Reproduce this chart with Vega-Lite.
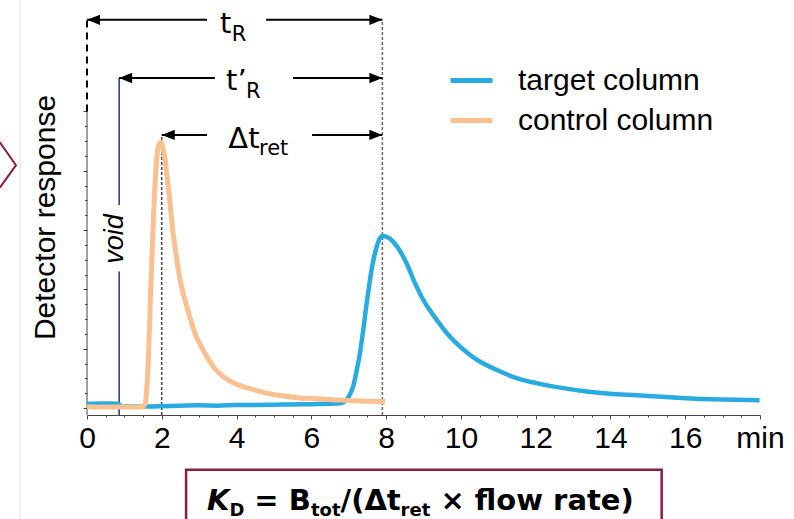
{
  "$schema": "https://vega.github.io/schema/vega-lite/v6.json",
  "width": 673,
  "height": 415,
  "autosize": {"type": "none"},
  "padding": {"left": 87, "top": 0, "right": 34, "bottom": 104},
  "background": "white",
  "config": {"view": {"stroke": null}, "font": "Liberation Sans"},
  "datasets": {
    "curves": [
      {"series": "target column", "x": 0, "y": 1.4},
      {"series": "target column", "x": 0.5, "y": 1.5},
      {"series": "target column", "x": 0.85, "y": 1.4},
      {"series": "target column", "x": 0.9, "y": 0.6},
      {"series": "target column", "x": 1.2, "y": 0.5},
      {"series": "target column", "x": 1.6, "y": 0.5},
      {"series": "target column", "x": 2.0, "y": 0.6},
      {"series": "target column", "x": 2.5, "y": 0.8},
      {"series": "target column", "x": 3.0, "y": 0.9},
      {"series": "target column", "x": 3.5, "y": 0.8},
      {"series": "target column", "x": 4.0, "y": 1.0},
      {"series": "target column", "x": 4.5, "y": 1.0},
      {"series": "target column", "x": 5.0, "y": 1.1},
      {"series": "target column", "x": 5.5, "y": 1.2},
      {"series": "target column", "x": 6.0, "y": 1.3},
      {"series": "target column", "x": 6.5, "y": 1.4},
      {"series": "target column", "x": 6.8, "y": 1.6},
      {"series": "target column", "x": 6.94, "y": 2.8},
      {"series": "target column", "x": 7.03, "y": 4.5},
      {"series": "target column", "x": 7.12, "y": 7.3},
      {"series": "target column", "x": 7.21, "y": 12.5},
      {"series": "target column", "x": 7.3, "y": 18.5},
      {"series": "target column", "x": 7.39, "y": 26.5},
      {"series": "target column", "x": 7.48, "y": 35.4},
      {"series": "target column", "x": 7.55, "y": 41.5},
      {"series": "target column", "x": 7.61, "y": 46.6},
      {"series": "target column", "x": 7.68, "y": 51.0},
      {"series": "target column", "x": 7.75, "y": 54.5},
      {"series": "target column", "x": 7.82, "y": 56.9},
      {"series": "target column", "x": 7.9, "y": 58.0},
      {"series": "target column", "x": 8.0, "y": 57.8},
      {"series": "target column", "x": 8.12, "y": 56.9},
      {"series": "target column", "x": 8.24, "y": 55.3},
      {"series": "target column", "x": 8.35, "y": 53.4},
      {"series": "target column", "x": 8.46, "y": 51.0},
      {"series": "target column", "x": 8.6, "y": 47.3},
      {"series": "target column", "x": 8.73, "y": 43.3},
      {"series": "target column", "x": 8.86, "y": 39.8},
      {"series": "target column", "x": 8.99, "y": 36.5},
      {"series": "target column", "x": 9.17, "y": 33.0},
      {"series": "target column", "x": 9.35, "y": 29.8},
      {"series": "target column", "x": 9.62, "y": 25.3},
      {"series": "target column", "x": 9.97, "y": 20.8},
      {"series": "target column", "x": 10.42, "y": 16.3},
      {"series": "target column", "x": 10.95, "y": 12.9},
      {"series": "target column", "x": 11.49, "y": 10.1},
      {"series": "target column", "x": 12.02, "y": 8.4},
      {"series": "target column", "x": 12.74, "y": 6.7},
      {"series": "target column", "x": 13.36, "y": 5.6},
      {"series": "target column", "x": 13.98, "y": 4.8},
      {"series": "target column", "x": 14.7, "y": 4.3},
      {"series": "target column", "x": 15.59, "y": 3.6},
      {"series": "target column", "x": 16.48, "y": 3.0},
      {"series": "target column", "x": 17.37, "y": 2.8},
      {"series": "target column", "x": 17.99, "y": 2.6},
      {"series": "control column", "x": 0, "y": 0.4},
      {"series": "control column", "x": 0.5, "y": 0.3},
      {"series": "control column", "x": 1.0, "y": 0.3},
      {"series": "control column", "x": 1.45, "y": 0.3},
      {"series": "control column", "x": 1.55, "y": 1.1},
      {"series": "control column", "x": 1.6, "y": 7},
      {"series": "control column", "x": 1.64, "y": 16},
      {"series": "control column", "x": 1.7, "y": 38},
      {"series": "control column", "x": 1.77, "y": 62},
      {"series": "control column", "x": 1.84, "y": 80},
      {"series": "control column", "x": 1.91, "y": 88.2},
      {"series": "control column", "x": 1.98, "y": 89.7},
      {"series": "control column", "x": 2.03, "y": 87.5},
      {"series": "control column", "x": 2.09, "y": 83.7},
      {"series": "control column", "x": 2.15, "y": 77},
      {"series": "control column", "x": 2.22, "y": 69.2},
      {"series": "control column", "x": 2.28, "y": 61.5},
      {"series": "control column", "x": 2.35, "y": 54.5},
      {"series": "control column", "x": 2.42, "y": 48.5},
      {"series": "control column", "x": 2.49, "y": 43.2},
      {"series": "control column", "x": 2.58, "y": 38.3},
      {"series": "control column", "x": 2.67, "y": 34.2},
      {"series": "control column", "x": 2.78, "y": 29.5},
      {"series": "control column", "x": 2.89, "y": 25.2},
      {"series": "control column", "x": 3.04, "y": 21.0},
      {"series": "control column", "x": 3.2, "y": 17.4},
      {"series": "control column", "x": 3.4, "y": 13.6},
      {"series": "control column", "x": 3.64, "y": 10.6},
      {"series": "control column", "x": 3.9, "y": 8.6},
      {"series": "control column", "x": 4.18, "y": 7.2},
      {"series": "control column", "x": 4.5, "y": 6.0},
      {"series": "control column", "x": 4.8, "y": 5.0},
      {"series": "control column", "x": 5.2, "y": 4.1},
      {"series": "control column", "x": 5.7, "y": 3.4},
      {"series": "control column", "x": 6.1, "y": 3.1},
      {"series": "control column", "x": 6.58, "y": 2.8},
      {"series": "control column", "x": 7.0, "y": 2.5},
      {"series": "control column", "x": 7.5, "y": 2.3},
      {"series": "control column", "x": 7.97, "y": 2.2}
    ],
    "arrows": [
      {"x": 0, "x2": 3.21, "y": 130.9},
      {"x": 4.79, "x2": 7.9, "y": 130.9},
      {"x": 0.86, "x2": 3.42, "y": 111.3},
      {"x": 5.51, "x2": 7.9, "y": 111.3},
      {"x": 2.0, "x2": 3.21, "y": 92.1},
      {"x": 6.02, "x2": 7.9, "y": 92.1}
    ],
    "heads": [
      {"dir": "left", "x": 0, "y": 130.9},
      {"dir": "left", "x": 0.86, "y": 111.3},
      {"dir": "left", "x": 2.0, "y": 92.1},
      {"dir": "right", "x": 7.9, "y": 130.9},
      {"dir": "right", "x": 7.9, "y": 111.3},
      {"dir": "right", "x": 7.9, "y": 92.1}
    ],
    "vlines": [
      {"kind": "zero", "x": 0, "y": 100, "y2": 130.9},
      {"kind": "ret", "x": 7.9, "y": -2.36, "y2": 130.9},
      {"kind": "peak", "x": 2.0, "y": -2.36, "y2": 92.1},
      {"kind": "void", "x": 0.86, "y": 68.5, "y2": 111.3},
      {"kind": "void", "x": 0.86, "y": -2.36, "y2": 46.0},
      {"kind": "yaxis", "x": 0, "y": -2.36, "y2": 100},
      {"kind": "divider", "x": -1.79, "y": -40, "y2": 140}
    ],
    "chevron": [
      {"i": 0, "x": -2.33, "y": 89.6},
      {"i": 1, "x": -1.9, "y": 81.9},
      {"i": 2, "x": -2.33, "y": 74.3}
    ],
    "box": [
      {"x": 2.65, "x2": 15.37, "y": -20.8, "y2": -60}
    ],
    "texts": [
      {"role": "ann", "x": 3.56, "y": 126.4, "text": "t"},
      {"role": "annsub", "x": 3.87, "y": 123.8, "text": "R"},
      {"role": "ann", "x": 3.72, "y": 107.2, "text": "t’"},
      {"role": "annsub", "x": 4.25, "y": 104.6, "text": "R"},
      {"role": "ann", "x": 3.78, "y": 87.8, "text": "Δt"},
      {"role": "annsub", "x": 4.6, "y": 85.3, "text": "ret"},
      {"role": "void", "x": 0.76, "y": 57.0, "text": "void"},
      {"role": "fK", "x": 3.209, "y": -34.3, "text": "K"},
      {"role": "fsub", "x": 3.81, "y": -36.3, "text": "D"},
      {"role": "fmain", "x": 4.476, "y": -34.3, "text": "= B"},
      {"role": "fsub", "x": 5.989, "y": -36.3, "text": "tot"},
      {"role": "fmain", "x": 6.781, "y": -34.3, "text": "/(Δt"},
      {"role": "fsub", "x": 8.388, "y": -36.3, "text": "ret"},
      {"role": "fmain", "x": 9.452, "y": -34.3, "text": "× flow rate)"}
    ]
  },
  "encoding": {
    "x": {
      "field": "x",
      "type": "quantitative",
      "scale": {"domain": [0, 18], "nice": false, "zero": false},
      "axis": {
        "values": [0, 0.5, 1, 1.5, 2, 2.5, 3, 3.5, 4, 4.5, 5, 5.5, 6, 6.5, 7, 7.5, 8, 8.5, 9, 9.5, 10, 10.5, 11, 11.5, 12, 12.5, 13, 13.5, 14, 14.5, 15, 15.5, 16, 16.5, 17, 17.5, 18],
        "labelExpr": "datum.value == 18 ? 'min' : (datum.value % 2 == 0 ? format(datum.value, 'd') : '')",
        "tickSize": {"condition": {"test": "datum.value % 2 == 0", "value": 4}, "value": 2},
        "tickColor": "#444",
        "domainColor": "#444",
        "labelFont": "Liberation Sans",
        "labelFontSize": 30,
        "labelColor": "black",
        "labelPadding": 4,
        "labelOverlap": false,
        "labelFlush": false,
        "labelBound": false,
        "grid": false,
        "title": null
      }
    },
    "y": {
      "field": "y",
      "type": "quantitative",
      "scale": {"domain": [-2.36, 137.6], "nice": false, "zero": false},
      "axis": {
        "values": [0, 5, 10, 15, 20, 25, 30, 35, 40, 45, 50, 55, 60, 65, 70, 75, 80, 85, 90, 95, 100],
        "labels": false,
        "domain": false,
        "grid": false,
        "tickSize": {"condition": {"test": "datum.value % 20 == 0", "value": 4}, "value": 2.5},
        "tickColor": "#444",
        "title": "Detector response",
        "titleFont": "Liberation Sans",
        "titleFontSize": 30,
        "titleFontWeight": "normal",
        "titleColor": "black",
        "titleX": -42,
        "titleY": 217,
        "titleAngle": 270,
        "titleAlign": "center",
        "titleBaseline": "middle"
      }
    }
  },
  "layer": [
    {
      "data": {"name": "vlines"},
      "transform": [{"filter": "datum.kind == 'divider'"}],
      "mark": {"type": "rule", "color": "#dddddd", "strokeWidth": 1},
      "encoding": {"y2": {"field": "y2"}}
    },
    {
      "data": {"name": "chevron"},
      "mark": {"type": "line", "color": "#8C1D40", "strokeWidth": 2},
      "encoding": {"order": {"field": "i", "type": "quantitative"}}
    },
    {
      "data": {"name": "box"},
      "mark": {"type": "rect", "fill": "white", "stroke": "#8C1D40", "strokeWidth": 2.5},
      "encoding": {"x2": {"field": "x2"}, "y2": {"field": "y2"}}
    },
    {
      "data": {"name": "vlines"},
      "transform": [{"filter": "datum.kind == 'yaxis'"}],
      "mark": {"type": "rule", "color": "#444", "strokeWidth": 1},
      "encoding": {"y2": {"field": "y2"}}
    },
    {
      "data": {"name": "vlines"},
      "transform": [{"filter": "datum.kind == 'zero'"}],
      "mark": {"type": "rule", "color": "black", "strokeWidth": 2, "strokeDash": [7, 5]},
      "encoding": {"y2": {"field": "y2"}}
    },
    {
      "data": {"name": "vlines"},
      "transform": [{"filter": "datum.kind == 'ret'"}],
      "mark": {"type": "rule", "color": "#666", "strokeWidth": 1.5, "strokeDash": [3, 2]},
      "encoding": {"y2": {"field": "y2"}}
    },
    {
      "data": {"name": "vlines"},
      "transform": [{"filter": "datum.kind == 'peak'"}],
      "mark": {"type": "rule", "color": "#222", "strokeWidth": 1.2, "strokeDash": [3, 2]},
      "encoding": {"y2": {"field": "y2"}}
    },
    {
      "data": {"name": "vlines"},
      "transform": [{"filter": "datum.kind == 'void'"}],
      "mark": {"type": "rule", "color": "#262E7A", "strokeWidth": 1.5},
      "encoding": {"y2": {"field": "y2"}}
    },
    {
      "data": {"name": "curves"},
      "transform": [{"filter": "datum.series == 'target column'"}],
      "mark": {"type": "line", "strokeWidth": 4.5, "interpolate": "monotone"},
      "encoding": {
        "color": {
          "field": "series",
          "type": "nominal",
          "scale": {"domain": ["target column", "control column"], "range": ["#29ABE2", "#FAC090"]},
          "legend": {
            "orient": "none",
            "legendX": 361,
            "legendY": 57,
            "title": null,
            "symbolType": "stroke",
            "symbolSize": 1764,
            "symbolStrokeWidth": 5,
            "labelFont": "Liberation Sans",
            "labelFontSize": 30,
            "labelColor": "black",
            "labelOffset": 23,
            "labelLimit": 400,
            "rowPadding": 1,
            "padding": 0
          }
        }
      }
    },
    {
      "data": {"name": "curves"},
      "transform": [{"filter": "datum.series == 'control column'"}],
      "mark": {"type": "line", "strokeWidth": 5, "interpolate": "monotone"},
      "encoding": {
        "color": {"field": "series", "type": "nominal"}
      }
    },
    {
      "data": {"name": "arrows"},
      "mark": {"type": "rule", "color": "black", "strokeWidth": 2},
      "encoding": {"x2": {"field": "x2"}}
    },
    {
      "data": {"name": "heads"},
      "transform": [{"filter": "datum.dir == 'left'"}],
      "mark": {"type": "point", "shape": "M0,0L1,-0.4L1,0.4Z", "filled": true, "color": "black", "size": 676, "opacity": 1, "strokeWidth": 0}
    },
    {
      "data": {"name": "heads"},
      "transform": [{"filter": "datum.dir == 'right'"}],
      "mark": {"type": "point", "shape": "M0,0L-1,-0.4L-1,0.4Z", "filled": true, "color": "black", "size": 676, "opacity": 1, "strokeWidth": 0}
    },
    {
      "data": {"name": "texts"},
      "transform": [{"filter": "datum.role == 'ann'"}],
      "mark": {"type": "text", "font": "DejaVu Sans", "fontSize": 29, "align": "left", "baseline": "alphabetic", "color": "black"},
      "encoding": {"text": {"field": "text"}}
    },
    {
      "data": {"name": "texts"},
      "transform": [{"filter": "datum.role == 'annsub'"}],
      "mark": {"type": "text", "font": "DejaVu Sans", "fontSize": 21, "align": "left", "baseline": "alphabetic", "color": "black"},
      "encoding": {"text": {"field": "text"}}
    },
    {
      "data": {"name": "texts"},
      "transform": [{"filter": "datum.role == 'void'"}],
      "mark": {"type": "text", "font": "Liberation Sans", "fontStyle": "italic", "fontSize": 27, "align": "center", "baseline": "middle", "angle": 270, "color": "black"},
      "encoding": {"text": {"field": "text"}}
    },
    {
      "data": {"name": "texts"},
      "transform": [{"filter": "datum.role == 'fK'"}],
      "mark": {"type": "text", "font": "DejaVu Sans", "fontStyle": "italic", "fontWeight": "bold", "fontSize": 29, "align": "left", "baseline": "alphabetic", "color": "black"},
      "encoding": {"text": {"field": "text"}}
    },
    {
      "data": {"name": "texts"},
      "transform": [{"filter": "datum.role == 'fmain'"}],
      "mark": {"type": "text", "font": "DejaVu Sans", "fontWeight": "bold", "fontSize": 29, "align": "left", "baseline": "alphabetic", "color": "black"},
      "encoding": {"text": {"field": "text"}}
    },
    {
      "data": {"name": "texts"},
      "transform": [{"filter": "datum.role == 'fsub'"}],
      "mark": {"type": "text", "font": "DejaVu Sans", "fontWeight": "bold", "fontSize": 18, "align": "left", "baseline": "alphabetic", "color": "black"},
      "encoding": {"text": {"field": "text"}}
    }
  ]
}
